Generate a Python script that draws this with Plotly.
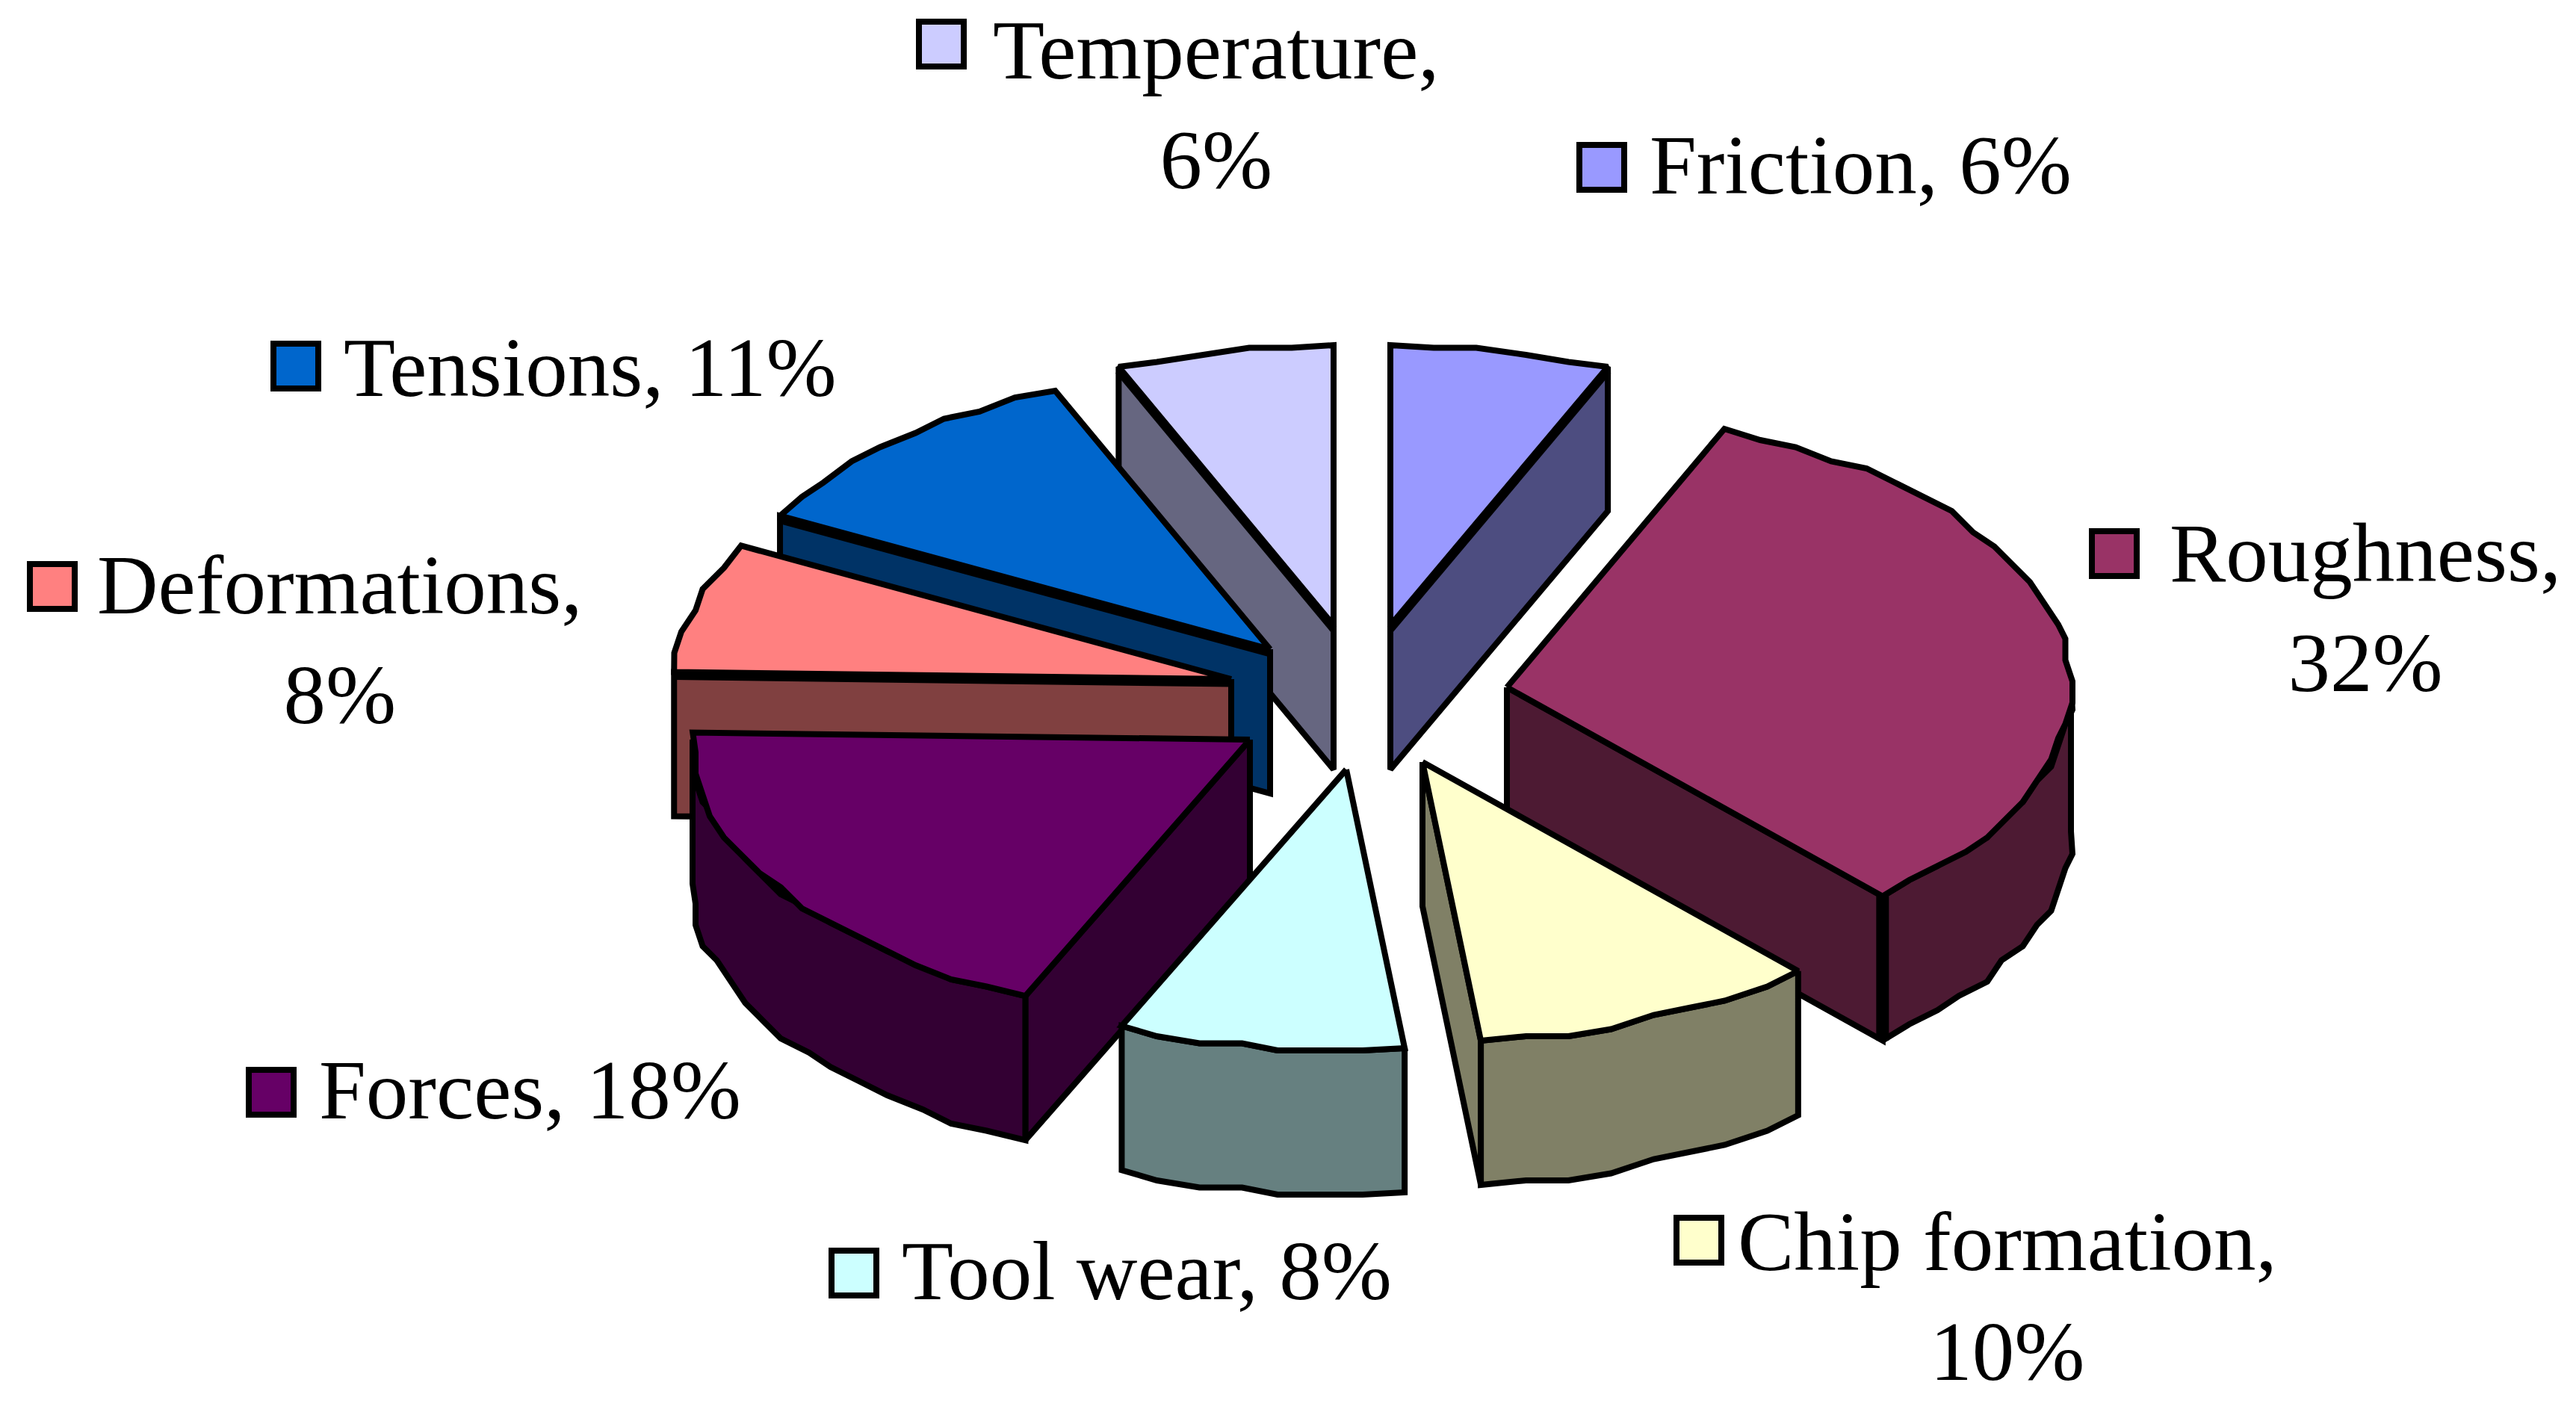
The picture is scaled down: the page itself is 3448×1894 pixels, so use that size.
import math
import plotly.graph_objects as go

# ---- data ----
categories = ["Friction", "Roughness", "Chip formation", "Tool wear",
              "Forces", "Deformations", "Tensions", "Temperature"]
percent_labels = [6, 32, 10, 8, 18, 8, 11, 6]
slice_shares = [6.3, 32.1, 9.95, 8.25, 18.8, 7.5, 10.8, 6.3]
top_colors = ["#9999FF", "#993366", "#FFFFCC", "#CCFFFF",
              "#660066", "#FF8080", "#0066CC", "#CCCCFF"]
wall_colors = ["#4D4D80", "#4D1A33", "#808066", "#668080",
               "#330033", "#804040", "#003366", "#666680"]

# ---- layout / style constants ----
W, H = 3448, 1894
RX_RIGHT, RX_LEFT, RY, DEPTH = 755, 746, 375, 193
LW = 8
GRID = 9.5
apex_x = [1861, 2017, 1904, 1802, 1673, 1648, 1700, 1785]
apex_y = [837, 920, 1020, 1030, 990, 909, 869, 837]
draw_order = [7, 0, 6, 5, 1, 4, 3, 2]
heavy_edges = {0: "end", 7: "start", 6: "start", 5: "start"}

label_text = ["Friction, {}%", "Roughness,<br>{}%", "Chip formation,<br>{}%", "Tool wear, {}%",
              "Forces, {}%", "Deformations,<br>{}%", "Tensions, {}%", "Temperature,<br>{}%"]
label_x = [2206, 3166, 2687, 1205, 425, 455, 458, 1628]
label_y = [220, 813, 1735, 1700, 1458, 856, 491, 140]
label_anchor = ["left", "center", "center", "left", "left", "center", "left", "center"]
key_x = [2144, 2830, 2274, 1143, 363, 70, 396, 1260]
key_y = [224, 741, 1660, 1704, 1462, 785, 490, 59]


def pt(i, deg):
    a = math.radians(deg)
    s = math.sin(a)
    rx = RX_RIGHT if s >= 0 else RX_LEFT
    return apex_x[i] + rx * s, apex_y[i] - RY * math.cos(a)


def arc(i, a0, a1, step=4.0):
    n = max(1, int(abs(a1 - a0) / step))
    pts = [pt(i, a0)]
    for k in range(1, n):
        x, y = pt(i, a0 + (a1 - a0) * k / n)
        pts.append((round(x / GRID) * GRID, round(y / GRID) * GRID))
    pts.append(pt(i, a1))
    return pts


def poly(pts, fill, width=LW):
    xs = [p[0] for p in pts] + [pts[0][0]]
    ys = [p[1] for p in pts] + [pts[0][1]]
    fig.add_trace(go.Scatter(x=xs, y=ys, mode="lines", fill="toself", fillcolor=fill,
                             line=dict(color="black", width=width), hoverinfo="skip",
                             showlegend=False))


def stroke(xs, ys, width):
    fig.add_trace(go.Scatter(x=xs, y=ys, mode="lines", line=dict(color="black", width=width),
                             hoverinfo="skip", showlegend=False))


fig = go.Figure()

total = sum(slice_shares)
starts, ends = [], []
c = 0.0
for s in slice_shares:
    starts.append(c / total * 360)
    c += s
    ends.append(c / total * 360)

for i in draw_order:
    a0, a1 = starts[i], ends[i]
    ax, ay = apex_x[i], apex_y[i]
    mid = (a0 + a1) / 2
    mx, my = pt(i, mid)[0] - ax, pt(i, mid)[1] - ay
    # radial walls that face the viewer
    for a in (a0, a1):
        ex, ey = pt(i, a)[0] - ax, pt(i, a)[1] - ay
        side_mid = ex * my - ey * mx
        side_down = ex
        if abs(side_down) < 1e-6 or side_mid * side_down < 0:
            ox, oy = pt(i, a)
            poly([(ax, ay), (ox, oy), (ox, oy + DEPTH), (ax, ay + DEPTH)], wall_colors[i])
    # outer wall
    w0, w1 = max(a0, 90), min(a1, 270)
    if w1 > w0:
        top = arc(i, w0, w1)
        poly(top + [(x, y + DEPTH) for x, y in reversed(top)], wall_colors[i])
    # doubled vertical edge at the front of the largest slice
    if categories[i] == "Roughness":
        ox, oy = pt(i, a1)
        stroke([ox, ox], [oy, oy + DEPTH], 17)
    # top face
    poly([(ax, ay)] + arc(i, a0, a1), top_colors[i])
    # doubled outline seen along some edges
    if i in heavy_edges:
        a = a0 if heavy_edges[i] == "start" else a1
        ox, oy = pt(i, a)
        stroke([ax, ox], [ay + 5, oy + 5], LW + 3)

# legend keys
fig.add_trace(go.Scatter(x=key_x, y=key_y, mode="markers", hoverinfo="skip", showlegend=False,
                         marker=dict(symbol="square", size=60, color=top_colors,
                                     line=dict(color="black", width=8))))

# labels
for i in range(len(categories)):
    fig.add_annotation(x=label_x[i], y=label_y[i], xref="x", yref="y",
                       text=label_text[i].format(percent_labels[i]),
                       showarrow=False, xanchor=label_anchor[i], yanchor="middle",
                       align="center",
                       font=dict(family="Liberation Serif", size=113, color="black"))

fig.update_layout(width=W, height=H, margin=dict(l=0, r=0, t=0, b=0),
                  paper_bgcolor="white", plot_bgcolor="white", showlegend=False,
                  xaxis=dict(range=[0, W], visible=False, fixedrange=True),
                  yaxis=dict(range=[H, 0], visible=False, fixedrange=True))

fig.write_html("out.html", config={"displayModeBar": False},
               post_script="document.body.style.margin='0';document.body.style.overflow='hidden';")
